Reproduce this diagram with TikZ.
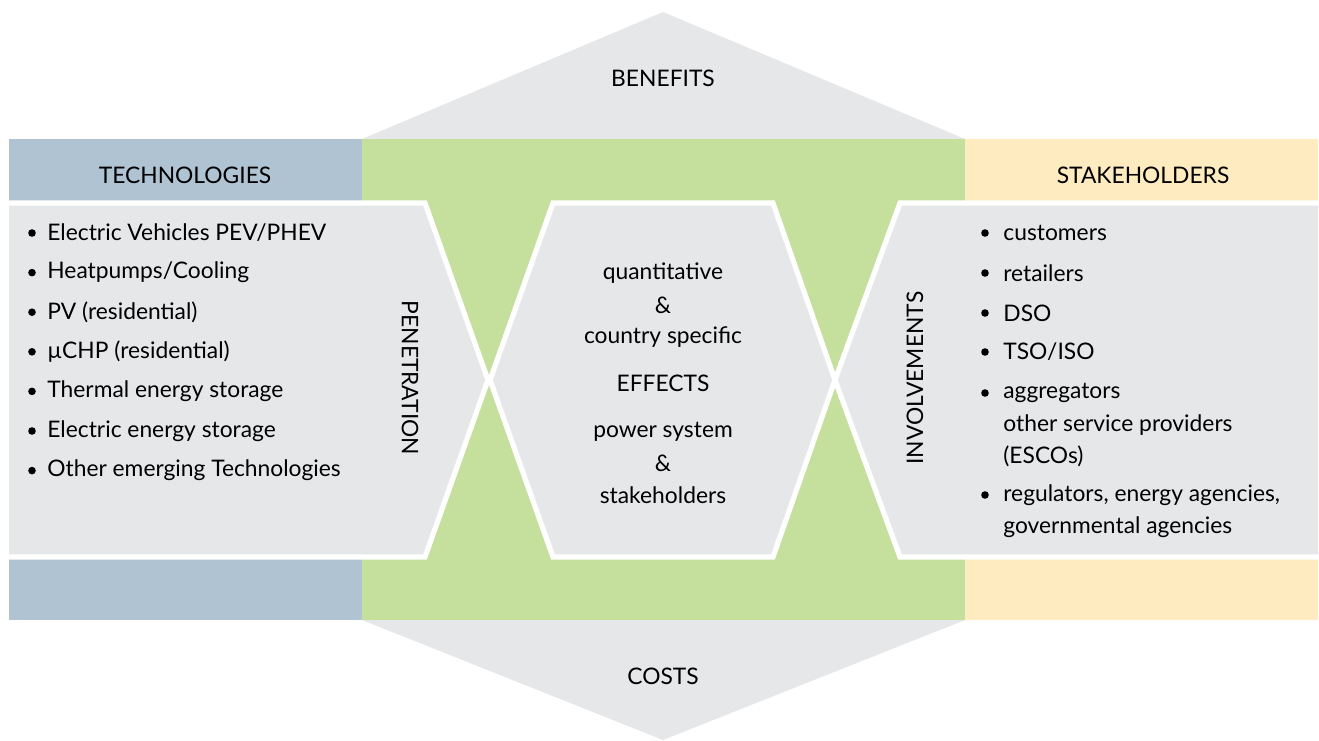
\documentclass[tikz,border=0pt]{standalone}
\usepackage{fontspec}
\setmainfont{Lato}
\definecolor{panelgray}{HTML}{E6E7E9}
\definecolor{techblue}{HTML}{AFC3D3}
\definecolor{effgreen}{HTML}{C5DF9D}
\definecolor{stakeyellow}{HTML}{FEEBC0}
\tikzset{
  panel/.style={fill=panelgray, draw=white, line width=2.6pt, line join=miter},
  label/.style={font=\fontsize{11.4}{13}\selectfont, inner sep=0pt},
  item/.style={label, anchor=west},
  dot/.style={circle, fill=black, inner sep=0pt, minimum size=3.8pt}
}
\begin{document}
\begin{tikzpicture}[x=0.5pt, y=-0.5pt]
    \useasboundingbox (0,0) rectangle (1319,740);
    % Bands
    \fill[panelgray] (362,139) -- (663,12) -- (965,139) -- cycle;
    \fill[panelgray] (362,620) -- (663,740) -- (965,620) -- cycle;
    \fill[techblue] (9,139) rectangle (362,620);
    \fill[effgreen] (362,139) rectangle (965,620);
    \fill[stakeyellow] (965,139) rectangle (1318,620);
    % Panels
    \draw[panel] (9,203) -- (425,203) -- (488,380) -- (425,557) -- (9,557);
    \draw[panel] (553,203) -- (773,203) -- (835,380) -- (773,557) -- (553,557) -- (490,380) -- cycle;
    \draw[panel] (1318,203) -- (900,203) -- (835,380) -- (900,557) -- (1318,557);
    % Headers
    \node[label] (benefits) at (663,78) {BENEFITS};
    \node[label] (costs) at (663,676) {COSTS};
    \node[label] (tech) at (185,175) {TECHNOLOGIES};
    \node[label] (stake) at (1143,175) {STAKEHOLDERS};
    \node[label, rotate=-90] (penetration) at (410,378) {PENETRATION};
    \node[label, rotate=90] (involve) at (915,378) {INVOLVEMENTS};
    % Technologies
    \foreach \txt [count=\i] in {Electric Vehicles PEV/PHEV, Heatpumps/Cooling, PV (residential),
        µCHP (residential), Thermal energy storage, Electric energy storage, Other emerging Technologies}{
      \node[dot] (tdot\i) at (32,{233+39.6*(\i-1)}) {};
      \node[item] (titem\i) at (47,{233+39.6*(\i-1)}) {\txt};
    }
    % Effects
    \node[label] (quant) at (663,273) {quantitative};
    \node[label] (amp1) at (663,305) {\&};
    \node[label] (country) at (663,337) {country specific};
    \node[label] (effects) at (663,383) {EFFECTS};
    \node[label] (power) at (663,432) {power system};
    \node[label] (amp2) at (663,463) {\&};
    \node[label] (stakeh) at (663,495) {stakeholders};
    % Stakeholders
    \foreach \y/\txt [count=\i] in {233/customers, 273/retailers, 313/DSO, 352/{TSO/ISO}, 393/aggregators, 495/{regulators, energy agencies,}}{
      \node[dot] (sdot\i) at (985,\y) {};
      \node[item] (sitem\i) at (1003,\y) {\txt};
    }
    \node[item] (sother) at (1003,425) {other service providers};
    \node[item] (sescos) at (1003,456) {(ESCOs)};
    \node[item] (sgov) at (1003,527) {governmental agencies};
\end{tikzpicture}
\end{document}
